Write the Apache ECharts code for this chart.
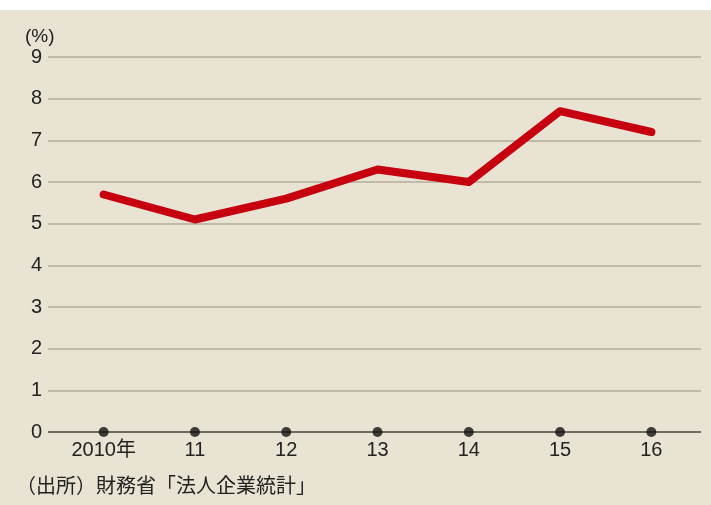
<!DOCTYPE html>
<html><head><meta charset="utf-8">
<script src="https://cdn.jsdelivr.net/npm/echarts@6/dist/echarts.min.js"></script>
<style>html,body{margin:0;padding:0;background:#fff}#c{width:711px;height:505px}</style>
</head><body><div id="c"></div>
<script>
const categories = ['2010年','11','12','13','14','15','16'];
const values = [5.7, 5.1, 5.6, 6.3, 6.0, 7.7, 7.2];
const axisDots = [0, 0, 0, 0, 0, 0, 0];
const yTicks = {min: 0, max: 9, interval: 1};
const unitLabel = '(%)';
const sourceText = '（出所）財務省「法人企業統計」';

const font = '"Liberation Sans", Arial, "Noto Sans CJK JP", sans-serif';
const chart = echarts.init(document.getElementById('c'), null, {renderer: 'canvas'});
chart.setOption({
  backgroundColor: '#ffffff',
  animation: false,
  graphic: [
    {type: 'rect', z: -10, shape: {x: 0, y: 10, width: 711, height: 495}, style: {fill: '#e9e3d3'}},
    {type: 'text', left: 25, top: 27, style: {text: unitLabel, font: '19px ' + font, fill: '#222'}},
    {type: 'text', left: 16, top: 477, style: {text: sourceText, font: '20px ' + font, fill: '#222'}}
  ],
  grid: [
    {left: 48, right: 10, top: 57, bottom: 73},
    {left: 58, width: 639, top: 57, bottom: 73}
  ],
  xAxis: [
    {type: 'category', gridIndex: 0, data: categories, show: false},
    {type: 'category', gridIndex: 1, data: categories, boundaryGap: true,
     axisLine: {show: false}, axisTick: {show: false},
     axisLabel: {color: '#222', fontSize: 20, fontFamily: font, margin: 8}}
  ],
  yAxis: [
    {type: 'value', gridIndex: 0, min: yTicks.min, max: yTicks.max, interval: yTicks.interval,
     axisLine: {show: false}, axisTick: {show: false},
     axisLabel: {color: '#222', fontSize: 20, fontFamily: font, margin: 6},
     splitLine: {show: true, lineStyle: {color: '#b2ac9e', width: 1.5}}},
    {type: 'value', gridIndex: 1, min: yTicks.min, max: yTicks.max, interval: yTicks.interval, show: false}
  ],
  series: [
    {type: 'line', xAxisIndex: 0, yAxisIndex: 0, data: [],
     markLine: {silent: true, symbol: 'none', label: {show: false},
       lineStyle: {color: '#6e6a62', width: 2, type: 'solid'}, data: [{yAxis: 0}]}},
    {type: 'line', xAxisIndex: 1, yAxisIndex: 1, data: values, symbol: 'none',
     lineStyle: {color: '#c6000e', width: 8, cap: 'round', join: 'round'}, z: 5},
    {type: 'scatter', xAxisIndex: 1, yAxisIndex: 1, data: axisDots, symbolSize: 10,
     itemStyle: {color: '#111'}, z: 6}
  ]
});
</script></body></html>
